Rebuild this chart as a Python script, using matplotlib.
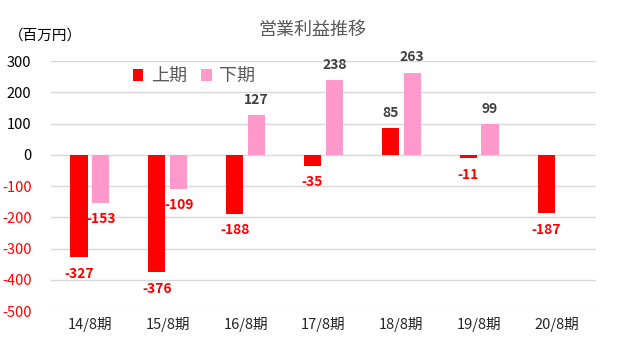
import matplotlib
matplotlib.use("Agg")
import matplotlib.pyplot as plt
import numpy as np

plt.rcParams["font.family"] = ["Noto Sans CJK JP", "DejaVu Sans"]

categories = ["14/8期", "15/8期", "16/8期", "17/8期", "18/8期", "19/8期", "20/8期"]
first_half = [-327, -376, -188, -35, 85, -11, -187]
second_half = [-153, -109, 127, 238, 263, 99, None]
yticks = [300, 200, 100, 0, -100, -200, -300, -400, -500]

RED = "#FF0000"
PINK = "#FF99CC"
GRAY = "#595959"

fig = plt.figure(figsize=(6.24, 3.42), dpi=100)
ax = fig.add_axes([0.0817, 0.0906, 0.955 - 0.0817, 0.8216 - 0.0906])

x = np.arange(len(categories))
w = 0.22
off = 0.14


def add_labels(xs, vals):
    for xi, v in zip(xs, vals):
        if v is None:
            continue
        if v >= 0:
            ax.annotate(f"{v}", (xi, v), xytext=(0, 11), textcoords="offset points",
                        ha="center", va="center", fontsize=10, fontweight="bold",
                        color="#404040")
        else:
            ax.annotate(f"{v}", (xi, v), xytext=(0, -12), textcoords="offset points",
                        ha="center", va="center", fontsize=10, fontweight="bold",
                        color=RED)


fh = [np.nan if v is None else v for v in first_half]
sh = [np.nan if v is None else v for v in second_half]
ax.bar(x - off, fh, width=w, color=RED, label="上期", zorder=3)
ax.bar(x + off, sh, width=w, color=PINK, label="下期", zorder=3)
add_labels(x - off, first_half)
add_labels(x + off, second_half)

ax.set_xlim(-0.5, len(categories) - 0.5)
ax.set_ylim(-500, 300)
ax.set_yticks(yticks)
ax.set_yticklabels([str(t) for t in yticks], fontsize=10.5)
for lbl, t in zip(ax.get_yticklabels(), yticks):
    lbl.set_color(RED if t < 0 else "black")
ax.set_xticks(x)
ax.set_xticklabels(categories, fontsize=10.5, color="#262626")
ax.tick_params(axis="both", length=0)
ax.tick_params(axis="y", pad=14)
ax.tick_params(axis="x", pad=4)
ax.grid(axis="y", color="#D9D9D9", linewidth=1, zorder=0)
for s in ax.spines.values():
    s.set_visible(False)

leg = ax.legend(loc="upper left", bbox_to_anchor=(0.12, 1.04), ncol=2, frameon=False,
                fontsize=13, handlelength=0.6, handleheight=0.6, handletextpad=0.4,
                columnspacing=0.8)
for t in leg.get_texts():
    t.set_color(GRAY)

fig.text(0.5, 0.912, "営業利益推移", ha="center", va="center", fontsize=13, color=GRAY)
fig.text(0.015, 0.895, "（百万円）", ha="left", va="center", fontsize=10.5, color="black")

fig.savefig("out.png", dpi=100)
